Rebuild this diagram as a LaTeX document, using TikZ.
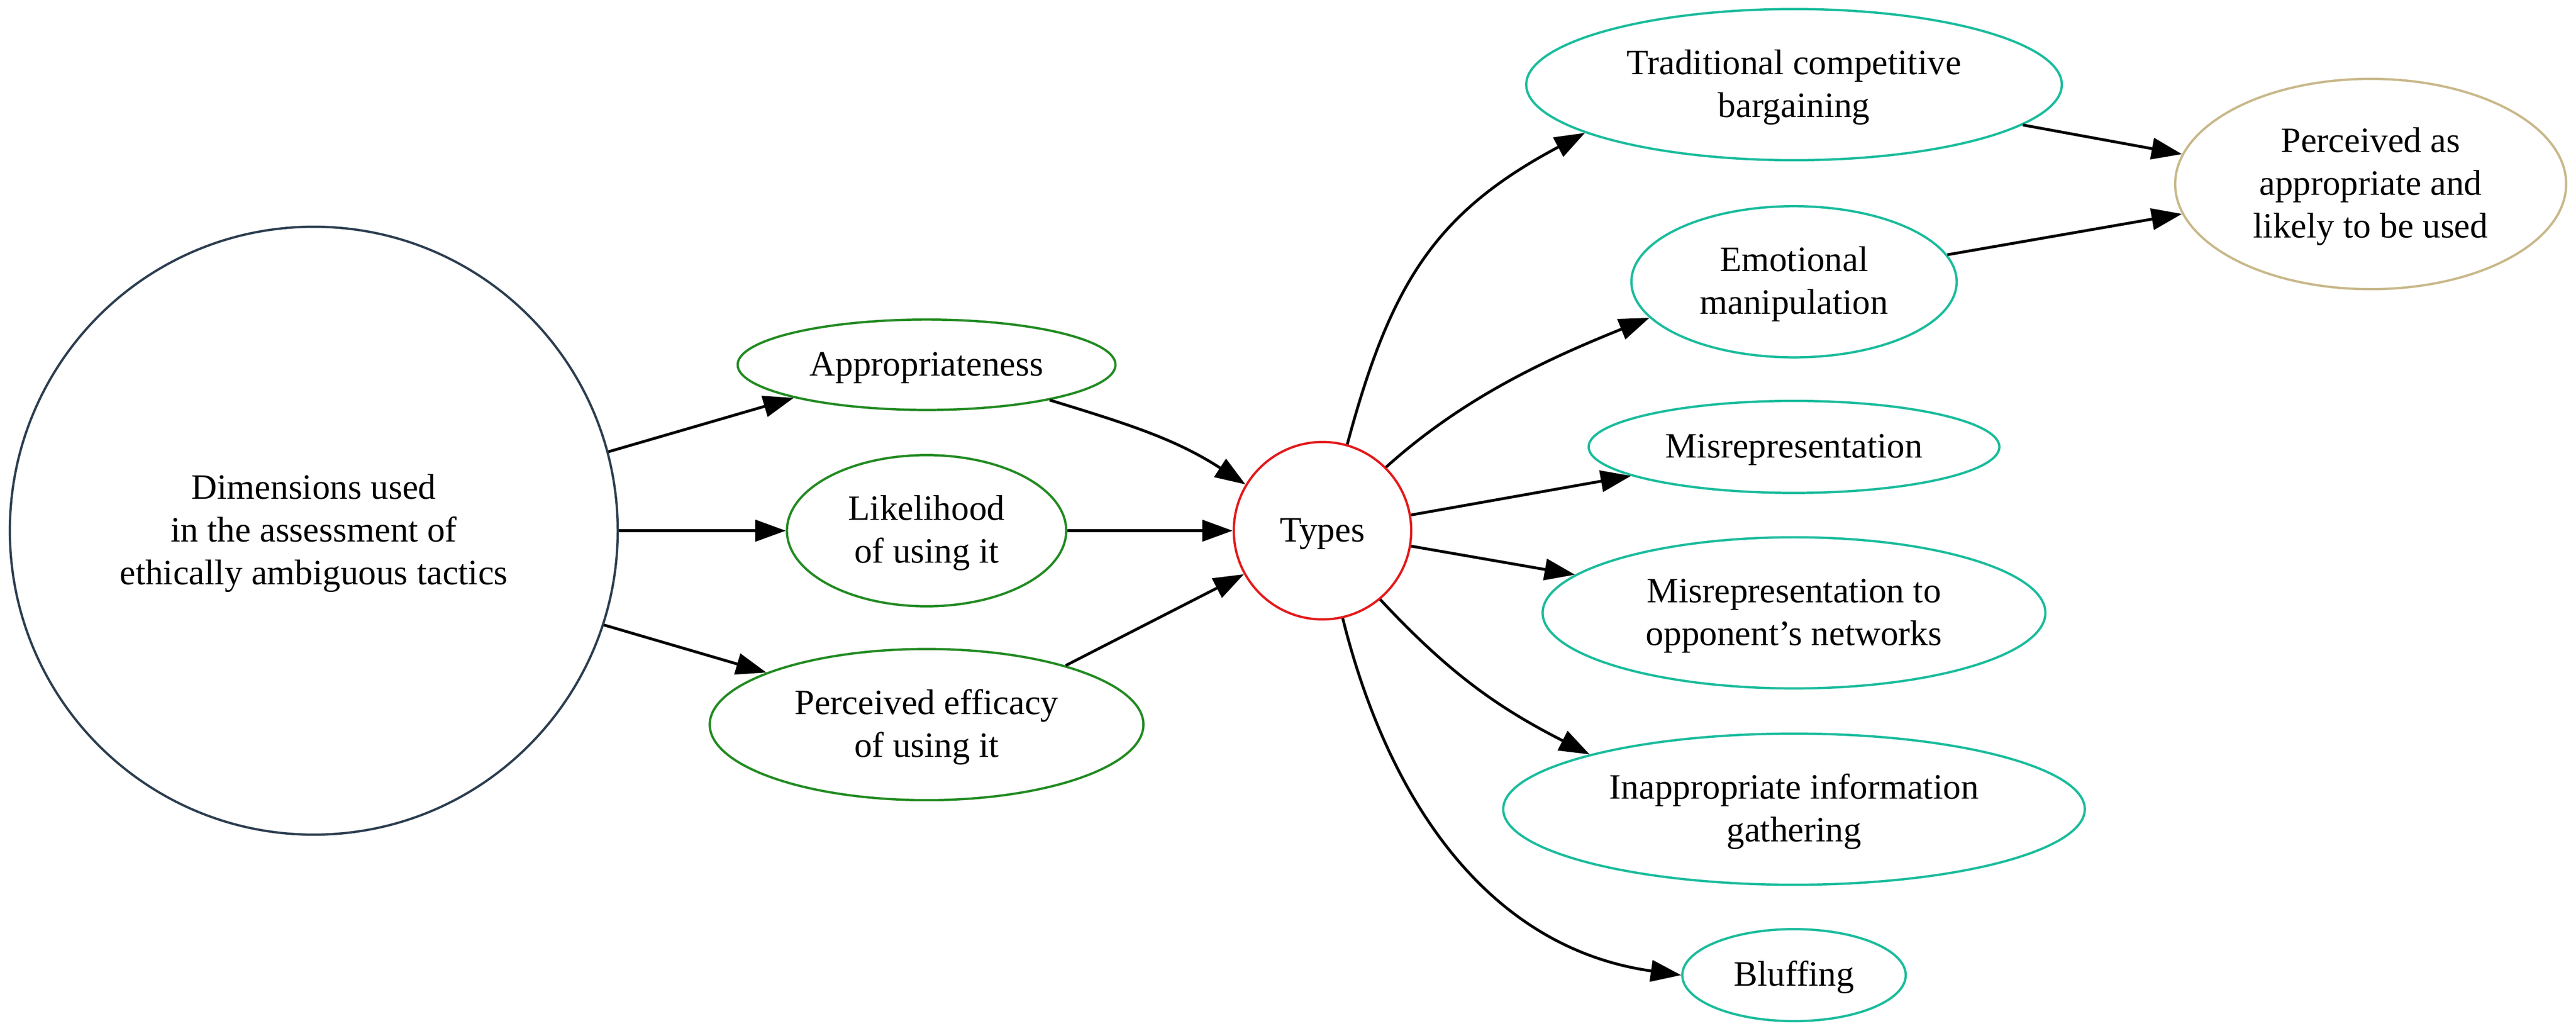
\documentclass[tikz,border=0pt]{standalone}
\usepackage{fontspec}
\setmainfont{Liberation Serif}
\usetikzlibrary{shapes.geometric,arrows.meta}
\definecolor{navyc}{HTML}{2C3E50}
\definecolor{greenc}{HTML}{228B22}
\definecolor{redc}{HTML}{E31A1C}
\definecolor{tealc}{HTML}{1ABC9C}
\definecolor{tanc}{HTML}{C8B88A}
\newcommand\gvs{\rule[-6.3pt]{0pt}{26pt}}
\begin{document}
\begin{tikzpicture}[x=1pt,y=1pt,
  nd/.style={ellipse, draw, line width=1.4pt, inner sep=0pt, align=center,
    font=\fontsize{21.7}{26}\selectfont},
  dimnode/.style={nd, draw=navyc},
  grnode/.style={nd, draw=greenc},
  rdnode/.style={nd, draw=redc},
  tlnode/.style={nd, draw=tealc},
  tnnode/.style={nd, draw=tanc},
  edge/.style={line width=1.7pt, -{Triangle[length=18.5pt,width=13pt]}}
]
\useasboundingbox (0,0) rectangle (1568,-627.2);

\node[dimnode, minimum width=370pt, minimum height=370pt] (dim) at (191,-323)
  {\gvs Dimensions used\\in the assessment of\\ethically ambiguous tactics\gvs};
\node[grnode, minimum width=230pt, minimum height=55pt] (appr) at (564,-222) {\gvs Appropriateness\gvs};
\node[grnode, minimum width=170pt, minimum height=92pt] (like) at (564,-323) {\gvs Likelihood\\of using it\gvs};
\node[grnode, minimum width=264pt, minimum height=92pt] (eff) at (564,-441) {\gvs Perceived efficacy\\of using it\gvs};
\node[rdnode, minimum width=108pt, minimum height=108pt] (types) at (805,-323) {\gvs Types\gvs};
\node[tlnode, minimum width=326pt, minimum height=92pt] (trad) at (1092,-51.5) {\gvs Traditional competitive\\bargaining\gvs};
\node[tlnode, minimum width=198pt, minimum height=92pt] (emo) at (1092,-171.5) {\gvs Emotional\\manipulation\gvs};
\node[tlnode, minimum width=250pt, minimum height=56pt] (misrep) at (1092,-272) {\gvs Misrepresentation\gvs};
\node[tlnode, minimum width=306pt, minimum height=92pt] (net) at (1092,-373) {\gvs Misrepresentation to\\opponent’s networks\gvs};
\node[tlnode, minimum width=354pt, minimum height=92pt] (inapp) at (1092,-492.5) {\gvs Inappropriate information\\gathering\gvs};
\node[tlnode, minimum width=136pt, minimum height=56pt] (bluff) at (1092,-593.5) {\gvs Bluffing\gvs};
\node[tnnode, minimum width=238pt, minimum height=128pt] (perc) at (1443,-112) {\gvs Perceived as\\appropriate and\\likely to be used\gvs};

\draw[edge] (dim.15) -- (appr.194);
\draw[edge] (dim) -- (like);
\draw[edge] (dim.-18) -- (eff.162);
\draw[edge] (appr.-16) to[out=-17,in=147] (types.149);
\draw[edge] (like) -- (types);
\draw[edge] (eff.23) -- (types.209);
\draw[edge] (types.74) to[out=75,in=208,looseness=1.1] (trad.193);
\draw[edge] (types.45) to[out=42,in=202,looseness=0.9] (emo.194);
\draw[edge] (types) -- (misrep);
\draw[edge] (types) -- (net);
\draw[edge] (types.-50) to[out=-47,in=153] (inapp.165);
\draw[edge] (types.-77) to[out=-76,in=172] (bluff.180);
\draw[edge] (trad.-10) -- (perc.171);
\draw[edge] (emo.10) -- (perc.189);
\end{tikzpicture}
\end{document}
